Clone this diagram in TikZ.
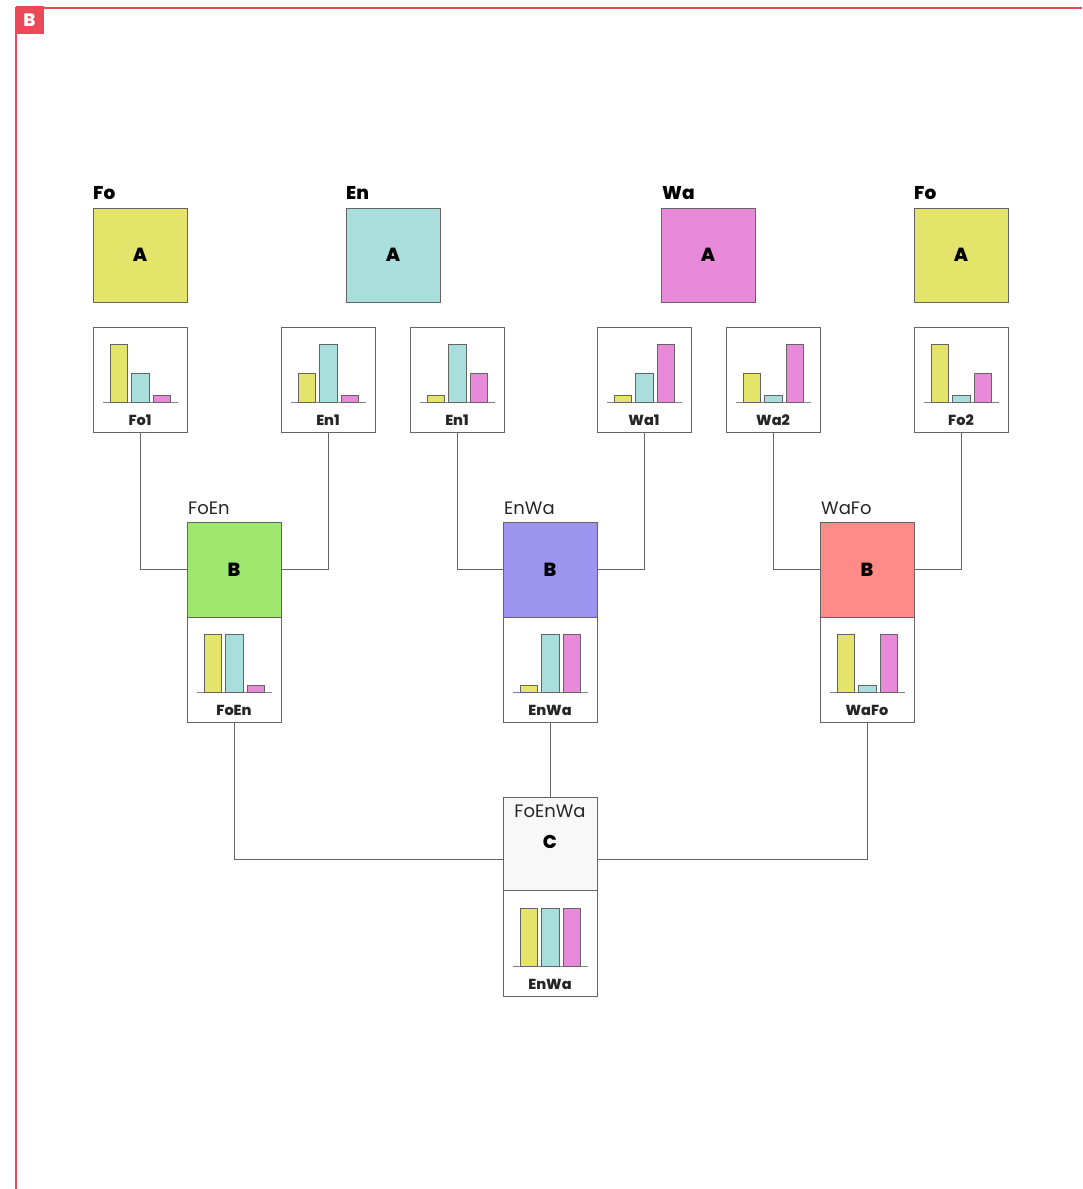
\documentclass[tikz,border=0pt]{standalone}
\usepackage{fontspec}
\IfFontExistsTF{Poppins ExtraBold}{%
  \setmainfont{Poppins}[BoldFont={Poppins ExtraBold}]%
}{%
  \IfFontExistsTF{Poppins Black}{%
    \setmainfont{Poppins}[BoldFont={Poppins Black}]%
  }{\setmainfont{Poppins}}%
}
\definecolor{redc}{RGB}{234,74,88}
\definecolor{cyel}{RGB}{228,228,106}
\definecolor{ccyan}{RGB}{168,222,219}
\definecolor{cpink}{RGB}{232,138,217}
\definecolor{cgreen}{RGB}{159,232,112}
\definecolor{cpurple}{RGB}{157,148,240}
\definecolor{cred}{RGB}{255,138,135}
\definecolor{cgray}{RGB}{248,248,248}
\definecolor{edgec}{RGB}{100,100,100}
\newcommand\mybars[5]{%
  \draw[basel] (#1+10,#2) -- (#1+84.5,#2);
  \draw[bar,fill=cyel] (#1+17,#2) rectangle (#1+34.5,#2-#3);
  \draw[bar,fill=ccyan] (#1+38.5,#2) rectangle (#1+56,#2-#4);
  \draw[bar,fill=cpink] (#1+60,#2) rectangle (#1+77.5,#2-#5);
}
\begin{document}
\begin{tikzpicture}[x=1pt,y=-1pt,
  sq/.style={draw=edgec,line width=0.9pt,minimum width=94pt,minimum height=94pt,inner sep=0pt,font=\bfseries\fontsize{19}{19}\selectfont},
  cbox/.style={draw=edgec,line width=0.9pt,fill=white,minimum width=94pt,minimum height=105pt,inner sep=0pt},
  ttl/.style={inner sep=0pt,anchor=base west,font=\bfseries\fontsize{18.5}{18.5}\selectfont},
  sub/.style={inner sep=0pt,anchor=base west,font=\fontsize{18}{18}\selectfont,text=black!85},
  clab/.style={inner sep=0pt,anchor=base,font=\bfseries\fontsize{14.5}{14.5}\selectfont,text=black!85},
  basel/.style={draw=edgec!80,line width=0.9pt},
  bar/.style={draw=edgec,line width=0.8pt},
  conn/.style={draw=edgec,line width=0.9pt}
]
\useasboundingbox (0,0) rectangle (1082,1189);
% frame
\draw[redc,line width=2pt] (16,1189) -- (16,8) -- (1082,8);
\node[fill=redc,minimum width=28pt,minimum height=28pt,inner sep=0pt,text=white,font=\bfseries\fontsize{18}{18}\selectfont] (tab) at (29.5,20) {B};

% top A boxes
\node[sq,fill=cyel]  (aFo)  at (140,255) {A};
\node[sq,fill=ccyan] (aEn)  at (393,255) {A};
\node[sq,fill=cpink] (aWa)  at (708,255) {A};
\node[sq,fill=cyel]  (aFo2) at (961,255) {A};
\node[ttl] (tFo)  at (93,199)  {Fo};
\node[ttl] (tEn)  at (346,199) {En};
\node[ttl] (tWa)  at (662,199) {Wa};
\node[ttl] (tFo2) at (914,199) {Fo};

% chart boxes
\node[cbox] (fo1) at (140,379.5) {};
\node[cbox] (en1) at (328,379.5) {};
\node[cbox] (en1b) at (457,379.5) {};
\node[cbox] (wa1) at (644,379.5) {};
\node[cbox] (wa2) at (773,379.5) {};
\node[cbox] (fo2) at (961,379.5) {};
\mybars{93}{402.5}{58}{29}{7}
\mybars{281}{402.5}{29}{58}{7}
\mybars{410}{402.5}{7}{58}{29}
\mybars{597}{402.5}{7}{29}{58}
\mybars{726}{402.5}{29}{7}{58}
\mybars{914}{402.5}{58}{7}{29}
\node[clab] (lfo1) at (140,425) {Fo1};
\node[clab] (len1) at (328,425) {En1};
\node[clab] (len1b) at (457,425) {En1};
\node[clab] (lwa1) at (644,425) {Wa1};
\node[clab] (lwa2) at (773,425) {Wa2};
\node[clab] (lfo2) at (961,425) {Fo2};

% B boxes
\node[sq,fill=cgreen,minimum height=95pt]  (foen) at (234,569.5) {B};
\node[sq,fill=cpurple,minimum height=95pt] (enwa) at (550,569.5) {B};
\node[sq,fill=cred,minimum height=95pt]    (wafo) at (867,569.5) {B};
\node[sub] (sfoen) at (188,514) {FoEn};
\node[sub] (senwa) at (504,514) {EnWa};
\node[sub] (swafo) at (821,514) {WaFo};
\node[cbox] (foenc) at (234,669.5) {};
\node[cbox] (enwac) at (550,669.5) {};
\node[cbox] (wafoc) at (867,669.5) {};
\mybars{187}{692.5}{58}{58}{7}
\mybars{503}{692.5}{7}{58}{58}
\mybars{820}{692.5}{58}{7}{58}
\node[clab] (lfoen) at (234,715.5) {FoEn};
\node[clab] (lenwa) at (550,715.5) {EnWa};
\node[clab] (lwafo) at (867,715.5) {WaFo};

% C box
\node[sq,fill=cgray,minimum height=93pt] (ctop) at (550,843.5) {};
\node[sub,anchor=base] (sc) at (550,817) {FoEnWa};
\node[ttl,anchor=base] (lc) at (550,848) {C};
\node[cbox,minimum height=106pt] (cc) at (550,943) {};
\mybars{503}{966.5}{58}{58}{58}
\node[clab] (lcc) at (550,989) {EnWa};

% connectors
\draw[conn] (fo1.south) |- (foen.west);
\draw[conn] (en1.south) |- (foen.east);
\draw[conn] (en1b.south) |- (enwa.west);
\draw[conn] (wa1.south) |- (enwa.east);
\draw[conn] (wa2.south) |- (wafo.west);
\draw[conn] (fo2.south) |- (wafo.east);
\coordinate (cin) at (550,859);
\draw[conn] (foenc.south) |- (ctop.west |- cin);
\draw[conn] (wafoc.south) |- (ctop.east |- cin);
\draw[conn] (enwac.south) -- (ctop.north);
\end{tikzpicture}
\end{document}
